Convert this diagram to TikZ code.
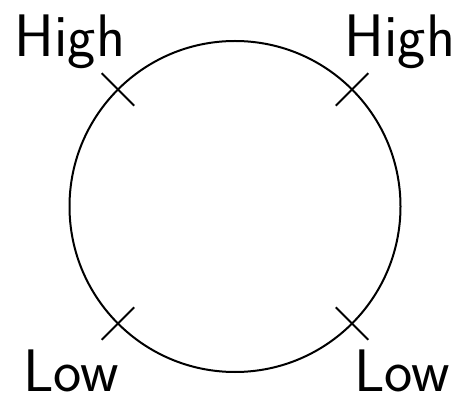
\documentclass[tikz,border=0pt]{standalone}
\usetikzlibrary{calc}
\begin{document}
\begin{tikzpicture}[x=1pt,y=1pt,
  ring/.style={line width=2pt},
  tick/.style={line width=2pt},
  lbl/.style={inner sep=0pt,anchor=base,font=\fontsize{60}{72}\selectfont\sffamily}]
\useasboundingbox (0,0) rectangle (460,396);
\coordinate (c) at (235,189.5);
\draw[ring] (c) circle (165.5);
\foreach \a/\n in {135/tl,45/tr,225/bl,315/br}{
  \coordinate (\n i) at ($(c)+(\a:142.5)$);
  \coordinate (\n o) at ($(c)+(\a:188.5)$);
  \draw[tick] (\n i) -- (\n o);
}
\node[lbl] (hl) at (70,339) {High};
\node[lbl] (hr) at (400,339) {High};
\node[lbl] (ll) at (71,4.5) {Low};
\node[lbl] (lr) at (402,4.5) {Low};
\end{tikzpicture}
\end{document}
